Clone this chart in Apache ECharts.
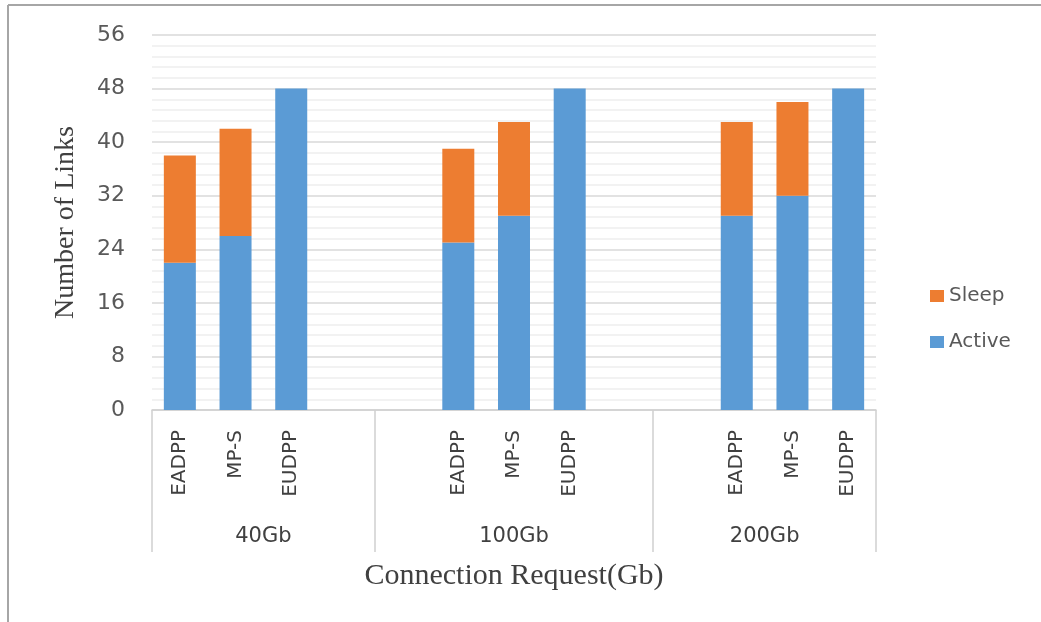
<!DOCTYPE html>
<html>
<head>
	<meta charset="utf-8">
	<title>Number of Links</title>
	<script src="https://cdn.jsdelivr.net/npm/echarts@6/dist/echarts.min.js"></script>
	<style type="text/css">
		html, body { height: 100%; margin: 0; background: #fff; }
	</style>
</head>
<body>
	<div id="main" style="width: 1041px;height:622px;"></div>
	<script type="text/javascript">
	// 数据
	var groups = ['40Gb', '100Gb', '200Gb'];
	var methods = ['EADPP', 'MP-S', 'EUDPP'];
	var activeLinks = [22, 26, 48, 25, 29, 48, 29, 32, 48];
	var sleepLinks = [16, 16, 0, 14, 14, 0, 14, 14, 0];
	var yTicks = [0, 8, 16, 24, 32, 40, 48, 56];

	// 每组前后的空位（与原图布局一致）
	var padBefore = [0, 1, 1];
	var padAfter = [1, 1, 0];

	var cats = [], act = [], slp = [], groupEdges = [0], groupMid = [];
	for (var g = 0; g < groups.length; g++) {
		var start = cats.length;
		for (var p = 0; p < padBefore[g]; p++) { cats.push(''); act.push('-'); slp.push('-'); }
		for (var m = 0; m < methods.length; m++) {
			cats.push(methods[m]);
			act.push(activeLinks[g * 3 + m]);
			slp.push(sleepLinks[g * 3 + m]);
		}
		for (var q = 0; q < padAfter[g]; q++) { cats.push(''); act.push('-'); slp.push('-'); }
		groupEdges.push(cats.length);
		groupMid.push((start + cats.length) / 2);
	}

	var sans = 'DejaVu Sans';
	var serif = 'Liberation Serif';

	var myChart = echarts.init(document.getElementById('main'));
	var option = {
		backgroundColor: '#fff',
		animation: false,
		grid: { left: 152, right: 165, top: 35, bottom: 212 },
		legend: {
			orient: 'vertical',
			left: 925,
			top: 281,
			data: ['Sleep', 'Active'],
			icon: 'rect',
			itemWidth: 14,
			itemHeight: 12,
			itemGap: 26,
			textStyle: { fontFamily: sans, fontSize: 20, color: '#595959' }
		},
		xAxis: [{
			type: 'category',
			data: cats,
			axisLine: { lineStyle: { color: '#d0d0d0', width: 1.5 } },
			axisTick: { show: false },
			axisLabel: {
				rotate: 90,
				interval: 0,
				margin: 20,
				fontFamily: sans,
				fontSize: 20,
				color: '#404040'
			}
		}, {
			type: 'value',
			position: 'bottom',
			min: 0,
			max: cats.length,
			axisLine: { show: false },
			splitLine: { show: false },
			axisTick: {
				show: true,
				customValues: groupEdges,
				length: 142,
				lineStyle: { color: '#d0d0d0', width: 1.5 }
			},
			axisLabel: {
				customValues: groupMid,
				margin: 116,
				fontFamily: sans,
				fontSize: 21,
				color: '#404040',
				formatter: function (v) {
					return groups[groupMid.indexOf(v)];
				}
			},
			name: 'Connection Request(Gb)',
			nameLocation: 'middle',
			nameGap: 151,
			nameTextStyle: { fontFamily: serif, fontSize: 30, color: '#404040' }
		}],
		yAxis: {
			type: 'value',
			min: 0,
			max: 56,
			interval: 8,
			axisLine: { show: false },
			axisTick: { show: false },
			axisLabel: {
				margin: 27,
				fontFamily: sans,
				fontSize: 22,
				color: '#595959',
				formatter: function (v) { return yTicks.indexOf(v) >= 0 ? v : ''; }
			},
			splitLine: { lineStyle: { color: '#d9d9d9', width: 1.5 } },
			minorTick: { show: false, splitNumber: 5 },
			minorSplitLine: { show: true, lineStyle: { color: '#eeeeee', width: 1.5 } },
			name: 'Number of Links',
			nameLocation: 'middle',
			nameGap: 72,
			nameTextStyle: { fontFamily: serif, fontSize: 28, color: '#404040' }
		},
		series: [{
			name: 'Active',
			type: 'bar',
			stack: 'links',
			barWidth: 32,
			data: act,
			itemStyle: { color: '#5b9bd5' }
		}, {
			name: 'Sleep',
			type: 'bar',
			stack: 'links',
			barWidth: 32,
			data: slp,
			itemStyle: { color: '#ed7d31' }
		}],
		graphic: [{
			type: 'line',
			shape: { x1: 8, y1: 5, x2: 1041, y2: 5 },
			style: { stroke: '#a6a6a6', lineWidth: 2 }
		}, {
			type: 'line',
			shape: { x1: 8, y1: 5, x2: 8, y2: 622 },
			style: { stroke: '#a6a6a6', lineWidth: 2 }
		}]
	};
	myChart.setOption(option);
	</script>
</body>
</html>
